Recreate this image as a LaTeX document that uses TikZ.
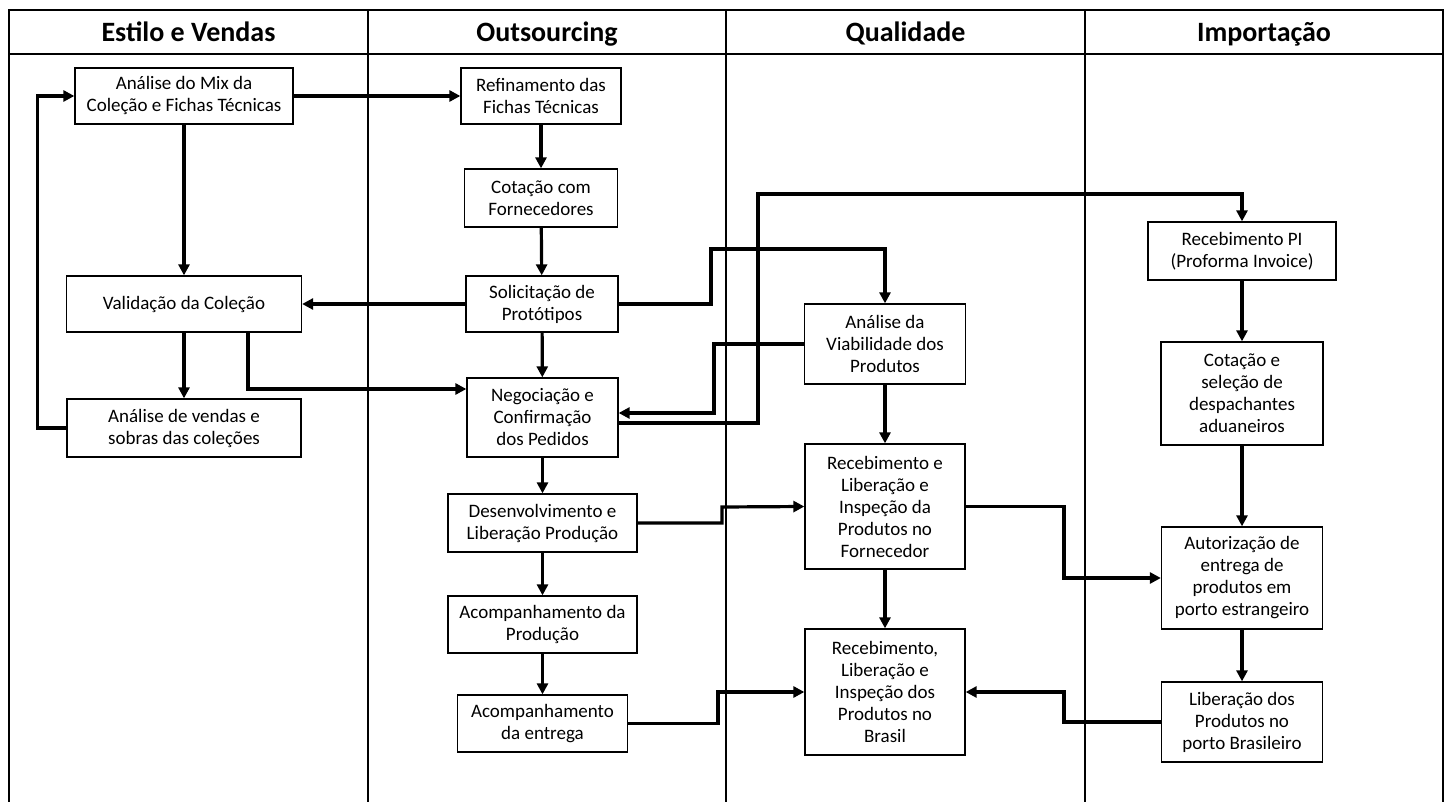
\documentclass[tikz,border=0pt]{standalone}
\usepackage{fontspec}
\setmainfont{Carlito}
\usetikzlibrary{arrows.meta}

\begin{document}
\begin{tikzpicture}[x=1pt, y=-1pt,
  box/.style={draw, line width=1.3pt, align=center, inner sep=2pt, font=\fontsize{19}{22}\selectfont},
  lane/.style={line width=1.2pt},
  flow/.style={line width=3.2pt, -{Triangle[length=11pt,width=11pt]}},
  head/.style={anchor=base, font=\bfseries\fontsize{28}{30}\selectfont}]
  \useasboundingbox (0,0) rectangle (1448,802);
  % raias
  \draw[lane] (9,802) -- (9,10) -- (1443,10) -- (1443,802);
  \draw[lane] (9,54) -- (1443,54);
  \foreach \x in {368,726,1085} \draw[lane] (\x,10) -- (\x,802);
  \node (H1) [head] at (188.5,42) {Estilo e Vendas};
  \node (H2) [head] at (547,42) {Outsourcing};
  \node (H3) [head] at (905.5,42) {Qualidade};
  \node (H4) [head] at (1264,42) {Importação};

  % Estilo e Vendas
  \node (mix) [box, minimum width=218, minimum height=56] at (184,96) {Análise do Mix da\\Coleção e Fichas Técnicas};
  \node (valid) [box, minimum width=235, minimum height=56] at (184,304) {Validação da Coleção};
  \node (vendas) [box, minimum width=234, minimum height=58] at (184,428) {Análise de vendas e\\sobras das coleções};

  % Outsourcing
  \node (refin) [box, minimum width=160, minimum height=56] at (541,96) {Refinamento das\\Fichas Técnicas};
  \node (cotf) [box, minimum width=153, minimum height=58] at (541,198) {Cotação com\\Fornecedores};
  \node (solic) [box, minimum width=152, minimum height=56] at (542,304) {Solicitação de\\Protótipos};
  \node (negoc) [box, minimum width=151, minimum height=79] at (542.5,417.5) {Negociação e\\Confirmação\\dos Pedidos};
  \node (desenv) [box, minimum width=189, minimum height=58] at (542.5,523) {Desenvolvimento e\\Liberação Produção};
  \node (acprod) [box, minimum width=189, minimum height=57] at (542.5,624.5) {Acompanhamento da\\Produção};
  \node (acent) [box, minimum width=170, minimum height=57] at (542.5,723.5) {Acompanhamento\\da entrega};

  % Qualidade
  \node (viab) [box, minimum width=161, minimum height=80] at (885,344) {Análise da\\Viabilidade dos\\Produtos};
  \node (forn) [box, minimum width=160, minimum height=125] at (885,506.5) {Recebimento e\\Liberação e\\Inspeção da\\Produtos no\\Fornecedor};
  \node (brasil) [box, minimum width=160, minimum height=126] at (885,692) {Recebimento,\\Liberação e\\Inspeção dos\\Produtos no\\Brasil};

  % Importação
  \node (pi) [box, minimum width=188, minimum height=58] at (1242,251) {Recebimento PI\\(Proforma Invoice)};
  \node (desp) [box, minimum width=162, minimum height=103] at (1242,393.5) {Cotação e\\seleção de\\despachantes\\aduaneiros};
  \node (autor) [box, minimum width=161, minimum height=102] at (1242,578) {Autorização de\\entrega de\\produtos em\\porto estrangeiro};
  \node (lib) [box, minimum width=161, minimum height=80] at (1242,722) {Liberação dos\\Produtos no\\porto Brasileiro};

  % fluxos
  \draw[flow] (mix) -- (valid);
  \draw[flow] (valid) -- (vendas);
  \draw[flow] (vendas.west) -- ++(-29,0) |- (mix.west);
  \draw[flow] (mix.east) -- (refin.west);
  \draw[flow] (refin) -- (cotf);
  \draw[flow] (cotf) -- (solic);
  \draw[flow] (solic) -- (negoc);
  \draw[flow] (negoc) -- (desenv);
  \draw[flow] (desenv) -- (acprod);
  \draw[flow] (acprod) -- (acent);
  \draw[flow] (solic.west) -- (valid.east);
  \draw[flow] ([xshift=64pt]valid.south) |- ([yshift=28.5pt]negoc.west);
  \draw[flow] (solic.east) -| (711,249) -| (viab.north);
  \draw[flow] (viab.west) -| (714,413) -- ([yshift=4.5pt]negoc.east);
  \draw[flow] ([yshift=-5.5pt]negoc.east) -| (758,194) -| (pi.north);
  \draw[flow] (viab) -- (forn);
  \draw[flow] (forn) -- (brasil);
  \draw[flow] (desenv.east) -| (722,507) -- (forn.west);
  \draw[flow] (forn.east) -| (1064,578) -- (autor.west);
  \draw[flow] (acent.east) -| (718,692) -- (brasil.west);
  \draw[flow] (lib.west) -| (1064,692) -- (brasil.east);
  \draw[flow] (pi) -- (desp);
  \draw[flow] (desp) -- (autor);
  \draw[flow] (autor) -- (lib);
\end{tikzpicture}
\end{document}
